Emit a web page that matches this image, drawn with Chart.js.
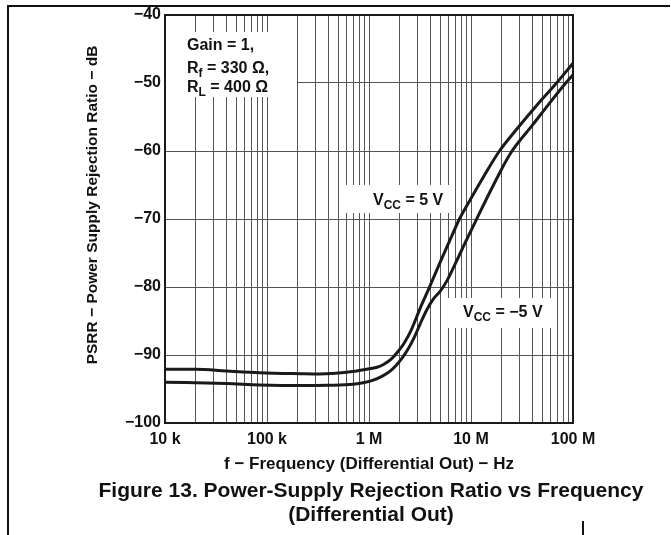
<!DOCTYPE html>
<html>
<head>
<meta charset="utf-8">
<script src="https://cdn.jsdelivr.net/npm/chart.js@4.4.1/dist/chart.umd.min.js"></script>
<style>
  html, body { margin: 0; padding: 0; background: #fff; }
  #wrap { width: 671px; height: 535px; }
</style>
</head>
<body>
<div id="wrap"><canvas id="chart" width="671" height="535"></canvas></div>
<script>
// values (frequency in Hz, PSRR in dB)
const freqA = [1e4, 2e4, 4e4, 8.5e4, 2.1e5, 3.3e5, 6e5, 9.5e5, 1.2e6, 1.4e6, 1.65e6, 1.9e6, 2.2e6, 2.6e6, 3.2e6, 3.9e6, 5.1e6, 6.3e6, 7.7e6, 9.8e6, 1.35e7, 1.9e7, 2.8e7, 4.4e7, 6.9e7, 1e8];
const psrrA = [-92.1, -92.1, -92.35, -92.6, -92.75, -92.8, -92.55, -92.1, -91.8, -91.35, -90.6, -89.6, -88.3, -86.3, -83.0, -80.1, -76.0, -72.9, -70.0, -67.2, -63.6, -60.0, -56.8, -53.3, -50.0, -47.1];

const freqB = [1e4, 4e4, 8.5e4, 2.1e5, 4e5, 7e5, 9e5, 1.1e6, 1.35e6, 1.6e6, 1.85e6, 2.1e6, 2.4e6, 2.8e6, 3.2e6, 3.7e6, 4.3e6, 5e6, 5.8e6, 6.8e6, 8.7e6, 1.12e7, 1.66e7, 2.45e7, 4e7, 6.3e7, 8.5e7, 1e8];
const psrrB = [-94.0, -94.2, -94.4, -94.5, -94.45, -94.3, -94.05, -93.7, -93.1, -92.4, -91.5, -90.5, -89.2, -87.3, -85.3, -83.3, -81.7, -80.6, -79.1, -77.0, -73.6, -70.2, -65.0, -60.3, -56.2, -52.4, -50.0, -48.8];

const xTickValues = [1e4, 1e5, 1e6, 1e7, 1e8];
const xTickLabels = ['10 k', '100 k', '1 M', '10 M', '100 M'];
const yTickValues = [-100, -90, -80, -70, -60, -50, -40];

// minor grid lines 1..9 in every decade
const xGrid = [];
for (let i = 0; i < xTickValues.length - 1; i++) {
  for (let k = 1; k <= 9; k++) xGrid.push(k * xTickValues[i]);
}
xGrid.push(xTickValues[xTickValues.length - 1]);

const FONT = '"Liberation Sans", Arial, Helvetica, sans-serif';
const INK = '#111';

function pts(xs, ys) {
  return xs.map((x, i) => ({ x: x, y: ys[i] }));
}

// draw text with a subscript part
function drawRich(ctx, x, y, parts, size) {
  let cx = x;
  parts.forEach(p => {
    const s = p.sub ? Math.round(size * 0.72) : size;
    ctx.font = 'bold ' + s + 'px ' + FONT;
    ctx.fillText(p.t, cx, p.sub ? y + 4 : y);
    cx += ctx.measureText(p.t).width;
  });
}

const overlay = {
  id: 'overlay',
  beforeDatasetsDraw(chart) {
    const ctx = chart.ctx;
    const a = chart.chartArea;
    ctx.save();
    // white label backgrounds that break the grid
    ctx.fillStyle = '#fff';
    ctx.fillRect(a.left + 1, 32, 131, 65);
    ctx.fillRect(342, 185, 110, 28);
    ctx.fillRect(445, 298, 108, 30);

    ctx.fillStyle = INK;
    ctx.textBaseline = 'alphabetic';
    ctx.textAlign = 'left';
    drawRich(ctx, 187, 50, [{ t: 'Gain = 1,' }], 16);
    drawRich(ctx, 187, 73, [{ t: 'R' }, { t: 'f', sub: true }, { t: ' = 330 \u03A9,' }], 16);
    drawRich(ctx, 187, 92, [{ t: 'R' }, { t: 'L', sub: true }, { t: ' = 400 \u03A9' }], 16);
    drawRich(ctx, 373, 205, [{ t: 'V' }, { t: 'CC', sub: true }, { t: ' = 5 V' }], 16);
    drawRich(ctx, 463, 317, [{ t: 'V' }, { t: 'CC', sub: true }, { t: ' = \u22125 V' }], 16);
    ctx.restore();
  },
  afterDraw(chart) {
    const ctx = chart.ctx;
    const a = chart.chartArea;
    ctx.save();
    // plot frame
    ctx.strokeStyle = '#1a1a1a';
    ctx.lineWidth = 2;
    ctx.strokeRect(a.left, a.top, a.right - a.left, a.bottom - a.top);

    // page frame lines
    ctx.strokeStyle = INK;
    ctx.beginPath();
    ctx.moveTo(8, 535); ctx.lineTo(8, 6); ctx.lineTo(670, 6);
    ctx.moveTo(583, 521); ctx.lineTo(583, 535);
    ctx.stroke();

    ctx.fillStyle = INK;
    ctx.textAlign = 'center';
    ctx.textBaseline = 'middle';
    // axis titles
    ctx.font = 'bold 17px ' + FONT;
    ctx.fillText('f \u2212 Frequency (Differential Out) \u2212 Hz', (a.left + a.right) / 2, 464);
    ctx.save();
    ctx.translate(93, 205);
    ctx.rotate(-Math.PI / 2);
    ctx.font = 'bold 15.5px ' + FONT;
    ctx.fillText('PSRR \u2212 Power Supply Rejection Ratio \u2212 dB', 0, 0);
    ctx.restore();
    // caption
    ctx.font = 'bold 21px ' + FONT;
    ctx.fillText('Figure 13. Power-Supply Rejection Ratio vs Frequency', 371, 491);
    ctx.fillText('(Differential Out)', 371, 515);
    ctx.restore();
  }
};

new Chart(document.getElementById('chart'), {
  type: 'line',
  data: {
    datasets: [
      {
        label: 'VCC = 5 V',
        data: pts(freqA, psrrA),
        borderColor: '#1a1a1a',
        borderWidth: 3,
        pointRadius: 0,
        cubicInterpolationMode: 'monotone',
        fill: false
      },
      {
        label: 'VCC = -5 V',
        data: pts(freqB, psrrB),
        borderColor: '#1a1a1a',
        borderWidth: 3,
        pointRadius: 0,
        cubicInterpolationMode: 'monotone',
        fill: false
      }
    ]
  },
  options: {
    responsive: false,
    animation: false,
    devicePixelRatio: 1,
    layout: { padding: { left: 0, top: 15, right: 98, bottom: 0 } },
    plugins: {
      legend: { display: false },
      tooltip: { enabled: false },
      title: { display: false }
    },
    scales: {
      x: {
        type: 'logarithmic',
        min: 1e4,
        max: 1e8,
        afterBuildTicks: s => { s.ticks = xGrid.map(v => ({ value: v })); },
        afterFit: s => { s.height = 112; },
        grid: { color: '#555', lineWidth: 1, drawTicks: false },
        border: { display: false },
        ticks: {
          autoSkip: false,
          maxRotation: 0,
          padding: 7,
          color: INK,
          font: { family: FONT, size: 16, weight: 'bold' },
          callback: v => {
            const i = xTickValues.indexOf(v);
            return i >= 0 ? xTickLabels[i] : '';
          }
        }
      },
      y: {
        min: -100,
        max: -40,
        afterBuildTicks: s => { s.ticks = yTickValues.map(v => ({ value: v })); },
        afterFit: s => { s.width = 165; },
        grid: { color: '#555', lineWidth: 1, drawTicks: false },
        border: { display: false },
        ticks: {
          padding: 4,
          color: INK,
          font: { family: FONT, size: 16, weight: 'bold' },
          callback: v => (v < 0 ? '\u2212' : '') + Math.abs(v)
        }
      }
    }
  },
  plugins: [overlay]
});
</script>
</body>
</html>
